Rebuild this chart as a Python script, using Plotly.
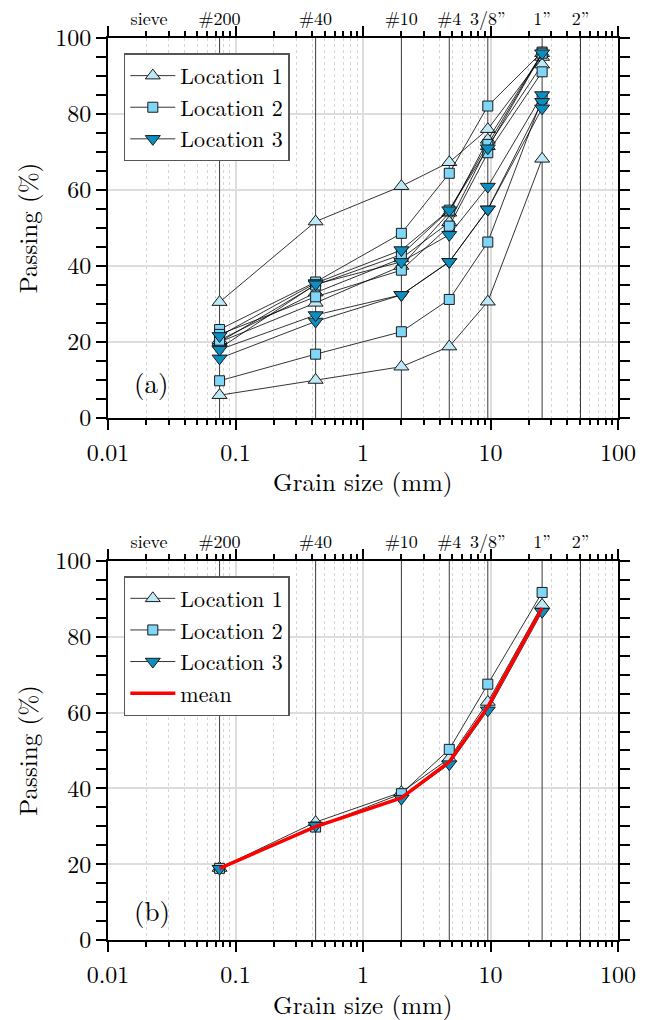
import plotly.graph_objects as go

# ---------------- data ----------------
sieve_sizes = [0.075, 0.425, 2.0, 4.75, 9.525, 25.4]          # mm, sampled sieves
sieve_lines = [0.075, 0.425, 2.0, 4.75, 9.525, 25.4, 50.8]     # vertical sieve lines
top_tick_vals = [0.021, 0.075, 0.425, 2.0, 4.75, 9.525, 25.4, 50.8]
top_tick_text = ["sieve", "#200", "#40", "#10", "#4", "3/8”", "1”", "2”"]
bottom_tick_vals = [0.01, 0.1, 1, 10, 100]
bottom_tick_text = ["0.01", "0.1", "1", "10", "100"]

# Location 1 samples (passing %)
loc1_samples = [
    [30.5, 51.7, 61.0, 67.3, 76.0, 95.0],
    [6.0, 10.0, 13.5, 18.8, 30.6, 68.2],
    [20.0, 30.3, 40.0, 54.0, 73.2, 96.0],
    [20.5, 33.0, 42.0, 51.5, 71.5, 93.0],
]
# Location 2 samples
loc2_samples = [
    [23.3, 35.8, 48.6, 64.4, 82.1, 96.3],
    [9.8, 16.8, 22.7, 31.2, 46.3, 84.0],
    [22.0, 31.9, 38.9, 50.5, 69.8, 91.1],
    [20.0, 35.0, 43.0, 54.7, 72.0, 96.0],
]
# Location 3 samples
loc3_samples = [
    [21.6, 35.5, 44.2, 54.7, 71.0, 96.0],
    [18.3, 35.2, 41.1, 48.2, 60.9, 85.0],
    [15.7, 25.4, 32.4, 41.1, 54.9, 83.2],
    [18.0, 27.1, 32.4, 41.1, 54.9, 81.5],
]
# Location averages (panel b)
loc1_mean = [19.0, 31.1, 39.0, 47.9, 62.8, 88.4]
loc2_mean = [18.9, 29.8, 38.6, 50.3, 67.5, 91.7]
loc3_mean = [18.8, 30.2, 37.3, 46.4, 60.6, 86.6]
overall_mean = [18.9, 29.9, 37.5, 47.0, 61.5, 87.6]

loc_names = ["Location 1", "Location 2", "Location 3"]
loc_symbols = ["triangle-up", "square", "triangle-down"]
loc_colors = ["#bfe8f6", "#80d6f6", "#0b8ec0"]
loc_sizes = [13, 10, 13]

FONT = "Latin Modern Roman"
fig = go.Figure()

def add_sieve_lines(xa, ya):
    xs, ys = [], []
    for s in sieve_lines:
        xs += [s, s, None]
        ys += [0, 100, None]
    fig.add_trace(go.Scatter(x=xs, y=ys, mode="lines", line=dict(color="#3a3a3a", width=1),
                             hoverinfo="skip", showlegend=False, xaxis=xa, yaxis=ya))

# ---- panel (a) ----
add_sieve_lines("x", "y")
for i, samples in enumerate([loc1_samples, loc2_samples, loc3_samples]):
    for j, vals in enumerate(samples):
        fig.add_trace(go.Scatter(
            x=sieve_sizes, y=vals, mode="lines+markers", name=loc_names[i],
            legendgroup=f"a{i}", showlegend=(j == 0), legend="legend",
            line=dict(color="black", width=0.8),
            marker=dict(symbol=loc_symbols[i], size=loc_sizes[i], color=loc_colors[i],
                        line=dict(color="#1a1a1a", width=1)),
            xaxis="x", yaxis="y"))

# ---- panel (b) ----
add_sieve_lines("x2", "y2")
for i, vals in enumerate([loc1_mean, loc2_mean, loc3_mean]):
    fig.add_trace(go.Scatter(
        x=sieve_sizes, y=vals, mode="lines+markers", name=loc_names[i],
        legend="legend2",
        line=dict(color="black", width=0.8),
        marker=dict(symbol=loc_symbols[i], size=loc_sizes[i], color=loc_colors[i],
                    line=dict(color="#1a1a1a", width=1)),
        xaxis="x2", yaxis="y2"))
fig.add_trace(go.Scatter(x=sieve_sizes, y=overall_mean, mode="lines", name="mean",
                         legend="legend2", line=dict(color="#ff0000", width=3.5),
                         xaxis="x2", yaxis="y2"))

# invisible anchors for top label axes
fig.add_trace(go.Scatter(x=[], y=[], xaxis="x3", yaxis="y", showlegend=False))
fig.add_trace(go.Scatter(x=[], y=[], xaxis="x4", yaxis="y2", showlegend=False))

tickfont = dict(family=FONT, size=24, color="black")
titlefont = dict(family=FONT, size=25, color="black")

def xaxis_cfg(anchor):
    return dict(
        type="log", range=[-2, 2], anchor=anchor, automargin=False,
        tickvals=bottom_tick_vals, ticktext=bottom_tick_text,
        showline=True, linecolor="black", linewidth=2, mirror="allticks",
        ticks="outside", ticklen=10, tickwidth=2, tickcolor="black",
        ticklabelstandoff=2,
        showgrid=True, gridcolor="#dddddd", gridwidth=1.5,
        minor=dict(dtick="D1", ticks="outside", ticklen=5, tickwidth=1.5, tickcolor="black",
                   showgrid=True, gridcolor="#d6d6d6", griddash="dot", gridwidth=1),
        tickfont=tickfont,
        zeroline=False)

def yaxis_cfg(anchor, domain):
    return dict(
        range=[0, 100], domain=domain, anchor=anchor, dtick=20, automargin=True,
        showline=True, linecolor="black", linewidth=2, mirror="allticks",
        ticks="outside", ticklen=10, tickwidth=2, tickcolor="black",
        ticklabelstandoff=0,
        showgrid=True, gridcolor="#dddddd", gridwidth=1.5,
        minor=dict(dtick=5, ticks="outside", ticklen=5, tickwidth=1.5, tickcolor="black",
                   showgrid=False),
        tickfont=tickfont,
        title=dict(text="Passing (%)", font=titlefont, standoff=10),
        zeroline=False)

def top_cfg(over, anchor):
    return dict(
        type="log", range=[-2, 2], overlaying=over, anchor=anchor, side="top", automargin=False,
        tickvals=top_tick_vals, ticktext=top_tick_text,
        ticks="outside", ticklen=5, tickcolor="rgba(0,0,0,0)",
        showline=False, showgrid=False, zeroline=False,
        tickfont=dict(family=FONT, size=18, color="black"))

legend_cfg = dict(
    xanchor="left", yanchor="top", bgcolor="white",
    bordercolor="#555555", borderwidth=1.5,
    font=dict(family=FONT, size=22, color="black"),
    tracegroupgap=0, itemwidth=45)

fig.update_layout(
    width=650, height=1020,
    margin=dict(l=108, r=32, t=38, b=80, autoexpand=False),
    paper_bgcolor="white", plot_bgcolor="white",
    font=dict(family=FONT, color="black"),
    xaxis=xaxis_cfg("y"),
    yaxis=yaxis_cfg("x", [0.5787, 1.0]),
    xaxis2=xaxis_cfg("y2"),
    yaxis2=yaxis_cfg("x2", [0.0, 0.4202]),
    xaxis3=top_cfg("x", "y"),
    xaxis4=top_cfg("x2", "y2"),
    legend=dict(x=0.031, y=0.983, **legend_cfg),
    legend2=dict(x=0.031, y=0.4035, **legend_cfg),
    annotations=[
        dict(text="Grain size (mm)", xref="x domain", yref="y domain", x=0.5, y=-0.165,
             xanchor="center", yanchor="middle", showarrow=False, font=titlefont),
        dict(text="Grain size (mm)", xref="x2 domain", yref="y2 domain", x=0.5, y=-0.168,
             xanchor="center", yanchor="middle", showarrow=False, font=titlefont),
        dict(text="(a)", xref="x domain", yref="y domain", x=0.086, y=0.095,
             xanchor="center", yanchor="middle",
             showarrow=False, font=dict(family=FONT, size=27, color="black")),
        dict(text="(b)", xref="x2 domain", yref="y2 domain", x=0.086, y=0.079,
             xanchor="center", yanchor="middle",
             showarrow=False, font=dict(family=FONT, size=27, color="black")),
    ],
    showlegend=True,
)

# remove the default 8 px page margin so the figure fills the window exactly
fig.write_html("out.html", config={"displayModeBar": False},
               post_script="document.body.style.margin='0';")
